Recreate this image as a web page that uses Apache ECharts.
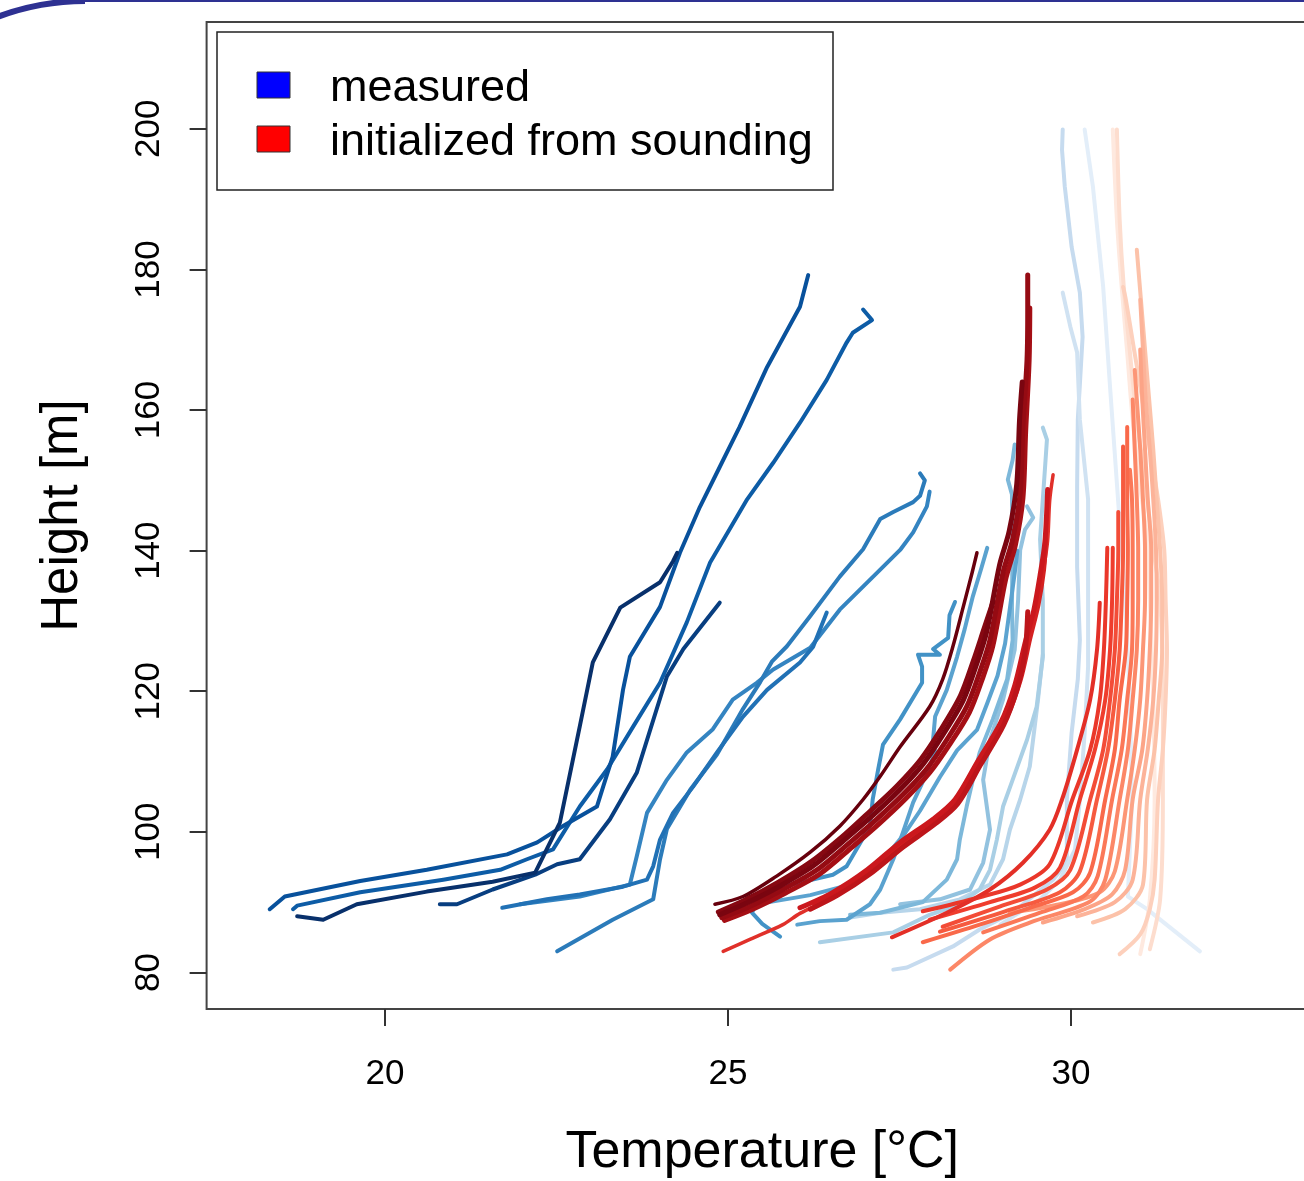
<!DOCTYPE html>
<html><head><meta charset="utf-8">
<script src="https://cdn.jsdelivr.net/npm/echarts@6/dist/echarts.min.js"></script>
<style>html,body{margin:0;padding:0;overflow:hidden;background:#fff}#c{width:1340px;height:1181px}</style>
</head><body><div id="c"></div><script>
// ---------- tick labels ----------
const xTicks = [20, 25, 30];
const yTicks = [80, 100, 120, 140, 160, 180, 200];
const legendNames = ['measured', 'initialized from sounding'];

// ---------- measured profiles [temperature °C, height m] ----------
const measured01 = [[18.72,88.0],[19.10,87.5],[19.59,89.7],[20.61,91.5],[21.57,92.9],[22.19,94.2],[22.55,101.3],[22.70,108.4],[22.84,115.0],[23.03,124.1],[23.43,131.9],[24.01,135.5],[24.20,138.5],[24.26,139.7]];
const measured02 = [[20.80,89.7],[21.05,89.7],[21.57,91.8],[22.19,93.9],[22.51,95.4],[22.84,96.1],[23.28,101.8],[23.67,108.4],[24.11,122.1],[24.35,126.0],[24.88,132.6]];
const measured03 = [[18.32,89.0],[18.54,90.8],[19.64,93.0],[20.61,94.6],[21.78,96.8],[22.22,98.5],[22.59,100.8],[23.09,103.6],[23.18,106.4],[23.32,110.7],[23.47,120.2],[23.57,124.9],[24.01,132.0],[24.30,139.7],[24.59,146.2],[24.88,151.9],[25.17,157.6],[25.57,166.1],[25.76,169.5],[26.05,174.7],[26.17,179.2]];
const measured04 = [[18.66,89.0],[18.72,89.5],[19.64,91.4],[20.85,93.2],[21.68,94.6],[22.07,96.1],[22.45,97.5],[22.84,103.6],[23.24,108.9],[23.62,115.0],[24.01,121.2],[24.40,129.8],[24.74,138.3],[25.28,147.3],[25.66,152.5],[26.05,158.2],[26.44,164.3],[26.73,169.6],[26.82,171.0],[27.10,172.8],[26.97,174.3]];
const measured05 = [[21.71,89.2],[22.36,90.4],[22.84,91.1],[23.47,92.2],[23.82,93.2],[23.91,95.1],[24.01,98.9],[24.20,102.7],[24.49,106.4],[24.84,111.3],[25.22,116.4],[25.57,120.2],[26.05,124.1],[26.24,126.3],[26.44,131.2]];
const measured06 = [[22.51,83.0],[23.32,87.5],[23.91,90.4],[24.01,96.1],[24.11,100.4],[24.45,106.0],[24.84,111.0],[25.22,117.5],[25.47,121.3],[25.64,124.2],[25.86,126.4],[26.20,130.7],[26.63,136.3],[26.97,140.2],[27.22,144.5],[27.41,145.5],[27.70,146.9],[27.80,147.8],[27.87,150.0],[27.80,151.0]];
const measured07 = [[21.97,89.7],[22.84,90.8],[23.57,92.5],[23.67,96.5],[23.82,102.7],[24.11,107.4],[24.40,111.3],[24.78,114.6],[25.07,118.8],[25.42,121.2],[25.66,123.1],[26.20,126.2],[26.63,131.6],[27.22,137.3],[27.51,140.1],[27.70,142.6],[27.90,146.3],[27.94,148.4]];
const measured08 = [[25.76,85.1],[25.50,86.9],[25.35,88.5],[25.45,90.6],[25.80,92.2],[26.53,93.9],[26.73,95.1],[27.07,100.8],[27.11,104.6],[27.19,108.9],[27.26,112.4],[27.51,116.0],[27.83,121.2],[27.83,123.5],[27.77,125.2],[28.09,125.2],[27.99,126.0],[28.21,127.6],[28.23,130.8],[28.31,132.7]];
const measured09 = [[28.78,140.4],[28.70,137.7],[28.57,133.5],[28.45,128.8],[28.34,124.9],[28.19,120.2],[28.02,116.4],[27.99,113.1],[28.02,111.3],[27.90,108.4],[27.70,104.2],[27.55,99.9],[27.41,96.1],[27.22,91.8],[27.07,89.7],[26.73,87.5],[26.34,87.3],[26.01,86.8]];
const measured10 = [[25.60,90.0],[26.20,91.0],[26.78,92.5],[27.22,95.5],[27.58,99.8],[27.80,103.0],[28.09,107.8],[28.34,111.6],[28.63,114.5],[28.78,118.3],[28.93,122.2],[29.04,126.8],[29.12,132.5],[29.18,136.8],[29.22,140.0]];
const measured11 = [[29.18,155.1],[29.15,152.9],[29.08,150.1],[29.14,148.0],[29.15,141.6],[29.14,132.0],[29.15,127.3],[29.07,121.7],[28.86,116.0],[28.67,111.3],[28.57,107.4],[28.48,103.6],[28.38,98.9],[28.34,96.1],[28.19,93.2],[27.84,90.0],[27.22,88.5],[26.78,88.2]];
const measured12 = [[29.36,146.3],[29.45,144.7],[29.33,143.0],[29.26,140.1],[29.23,133.0],[29.18,125.9],[29.01,118.8],[28.82,113.1],[28.72,107.4],[28.82,100.3],[28.72,95.6],[28.53,91.8],[28.09,90.4],[27.51,89.7]];
const measured13 = [[29.59,157.5],[29.65,155.8],[29.62,151.5],[29.59,147.3],[29.55,141.6],[29.59,133.0],[29.59,124.9],[29.50,117.8],[29.36,113.1],[29.15,107.4],[29.01,103.6],[28.92,98.9],[28.82,94.6],[28.67,91.8],[28.38,89.7],[27.94,88.2],[27.41,85.7],[26.34,84.3]];
const measured14 = [[29.59,125.2],[29.52,118.8],[29.40,109.3],[29.26,104.6],[29.11,100.3],[29.01,96.1],[28.82,92.5],[28.38,90.4],[27.80,89.0],[27.22,88.5],[26.78,87.8]];
const measured15 = [[29.88,199.9],[29.87,197.0],[29.91,191.8],[30.01,183.2],[30.13,176.7],[30.17,170.4],[30.10,158.6],[30.09,149.1],[30.09,137.7],[30.13,127.3],[30.10,121.7],[30.01,114.1],[29.94,104.6],[29.94,95.6],[29.74,93.2],[29.15,88.5],[28.67,86.1],[28.28,83.7],[27.61,80.7],[27.41,80.4]];
const measured16 = [[29.88,176.7],[29.99,171.9],[30.09,168.2],[30.13,158.6],[30.25,147.3],[30.25,133.0],[30.25,123.5],[30.20,114.1],[30.13,104.6],[30.06,97.5],[29.84,93.2],[29.55,90.4],[28.97,86.8]];
const measured17 = [[30.20,199.9],[30.32,191.8],[30.47,177.5],[30.57,163.3],[30.69,146.8],[30.79,133.0],[30.86,118.8],[30.89,104.6],[30.83,90.8],[31.11,89.0],[31.88,83.0]];

// ---------- simulated profiles (initialized from sounding) ----------
const sounding01 = [[24.81,89.7],[25.22,90.8],[25.71,93.7],[26.20,97.1],[26.63,100.8],[26.97,104.6],[27.22,107.9],[27.51,112.1],[27.94,117.8],[28.13,121.7],[28.28,126.4],[28.43,132.0],[28.56,136.9],[28.63,139.7]];
const sounding02 = [[24.88,88.2],[25.28,89.9],[25.76,92.3],[26.25,95.2],[26.73,99.1],[27.12,102.4],[27.50,105.9],[27.85,109.7],[28.14,113.9],[28.43,118.7],[28.62,123.7],[28.77,128.4],[28.96,138.0],[29.10,142.8],[29.21,149.5],[29.25,158.5],[29.29,164.0]];
const sounding03 = [[24.86,88.6],[25.25,90.3],[25.73,92.8],[26.22,95.8],[26.70,99.6],[27.08,103.0],[27.46,106.5],[27.81,110.3],[28.10,114.5],[28.39,119.4],[28.58,124.4],[28.73,128.8],[28.86,132.6]];
const sounding04 = [[24.91,87.8],[25.32,89.4],[25.80,91.8],[26.30,94.6],[26.78,98.5],[27.17,101.8],[27.55,105.3],[27.90,109.0],[28.19,113.1],[28.48,117.8],[28.67,122.7],[28.82,127.3],[29.01,136.9],[29.15,141.6],[29.26,148.2],[29.30,157.6],[29.36,167.2],[29.37,174.3],[29.37,179.2]];
const sounding05 = [[24.95,87.4],[25.36,89.0],[25.84,91.3],[26.34,94.0],[26.82,97.9],[27.21,101.2],[27.59,104.7],[27.94,108.4],[28.23,112.4],[28.52,117.0],[28.71,121.8],[28.86,126.4],[29.05,136.0],[29.19,140.8],[29.30,147.5],[29.34,157.0],[29.39,167.0],[29.40,174.5]];
const sounding06 = [[26.20,89.0],[26.60,91.0],[27.07,94.0],[27.55,97.8],[28.03,101.2],[28.35,104.0],[28.68,109.5],[29.02,115.2],[29.22,120.5],[29.33,125.5],[29.37,131.3]];
const sounding07 = [[26.05,89.2],[26.53,91.4],[27.03,94.6],[27.51,98.5],[27.99,101.8],[28.31,104.6],[28.64,110.0],[28.98,115.6],[29.18,120.8],[29.33,126.8],[29.46,131.6],[29.55,136.5],[29.62,141.2],[29.66,148.7]];
const sounding08 = [[26.27,89.6],[26.68,91.6],[27.12,94.8],[27.60,98.6],[28.07,102.0],[28.39,104.9],[28.72,110.6],[29.06,116.3],[29.26,121.6],[29.40,127.5],[29.52,132.3],[29.60,137.2],[29.63,141.5]];
const sounding09 = [[24.93,83.0],[25.32,84.7],[25.80,86.8],[26.05,88.4],[26.53,90.8],[27.03,94.1],[27.51,98.1],[27.99,101.4],[28.31,104.4],[28.67,110.1],[29.01,115.8],[29.21,121.0],[29.36,127.1],[29.50,131.8],[29.59,136.7],[29.66,141.4],[29.69,147.1],[29.74,150.8]];
const sounding10 = [[27.39,85.0],[28.19,88.5],[28.82,91.8],[29.30,95.6],[29.69,100.3],[29.87,104.6],[30.09,111.7],[30.28,118.8],[30.38,125.9],[30.42,132.6]];
const sounding11 = [[27.84,88.7],[28.67,90.7],[29.26,92.5],[29.69,95.4],[30.02,104.6],[30.28,111.7],[30.42,118.8],[30.48,125.9],[30.51,133.0],[30.53,140.4]];
const sounding12 = [[27.94,87.5],[28.82,90.0],[29.48,92.1],[29.84,94.9],[30.13,104.6],[30.35,111.7],[30.50,118.8],[30.57,125.9],[30.60,133.0],[30.61,140.4]];
const sounding13 = [[28.13,86.5],[28.97,89.4],[29.65,91.8],[29.99,94.6],[30.28,104.6],[30.47,111.7],[30.57,118.8],[30.64,125.9],[30.67,133.0],[30.69,140.1],[30.69,145.5]];
const sounding14 = [[28.09,85.8],[29.04,88.7],[29.84,91.4],[30.13,94.4],[30.38,104.6],[30.54,111.7],[30.64,118.8],[30.71,125.9],[30.74,133.0],[30.76,140.1],[30.76,147.3],[30.76,154.8]];
const sounding15 = [[27.84,84.3],[28.67,86.8],[29.40,89.2],[30.03,91.4],[30.28,94.2],[30.50,104.6],[30.64,111.7],[30.71,118.8],[30.80,125.9],[30.82,133.0],[30.83,140.1],[30.82,147.3],[30.82,157.6]];
const sounding16 = [[28.72,85.7],[29.55,88.5],[30.18,90.8],[30.39,93.7],[30.60,104.6],[30.74,111.7],[30.82,118.8],[30.89,125.9],[30.90,133.0],[30.90,140.1],[30.89,147.3],[30.86,151.5]];
const sounding17 = [[28.24,80.4],[28.82,84.7],[29.40,87.1],[30.28,90.1],[30.50,93.2],[30.71,104.6],[30.83,111.7],[30.90,118.8],[30.96,125.9],[30.98,133.0],[30.98,140.1],[30.96,147.3],[30.93,154.4],[30.90,161.5]];
const sounding18 = [[29.11,88.5],[29.84,89.7],[30.42,91.4],[30.64,94.4],[30.82,104.6],[30.93,111.7],[31.01,118.8],[31.05,125.9],[31.08,133.0],[31.08,140.1],[31.05,147.3],[31.01,154.4],[30.96,161.5],[30.93,165.7]];
const sounding19 = [[29.59,87.1],[30.20,89.0],[30.60,91.1],[30.79,94.6],[30.90,104.6],[31.04,111.7],[31.11,118.8],[31.15,125.9],[31.17,133.0],[31.17,140.1],[31.12,147.3],[31.08,154.4],[31.04,161.5],[31.01,168.6]];
const sounding20 = [[30.09,88.0],[30.64,90.0],[30.90,93.2],[31.01,104.6],[31.12,111.7],[31.20,118.8],[31.24,125.9],[31.25,133.0],[31.24,140.1],[31.20,147.3],[31.15,154.4],[31.09,161.5],[31.05,168.6],[31.01,175.7]];
const sounding21 = [[30.32,87.1],[30.79,89.0],[31.05,92.5],[31.11,104.6],[31.22,111.7],[31.28,118.8],[31.33,125.9],[31.33,133.0],[31.30,140.1],[31.25,147.3],[31.20,154.4],[31.14,161.5],[31.08,168.6],[31.02,175.7],[30.96,182.8]];
const sounding22 = [[30.71,82.6],[31.01,85.4],[31.15,89.0],[31.22,93.2],[31.27,104.6],[31.34,111.7],[31.38,118.8],[31.40,125.9],[31.38,133.0],[31.36,140.1],[31.27,147.3],[31.15,154.4],[31.04,161.5],[30.92,168.6],[30.80,175.7],[30.76,177.5]];
const sounding23 = [[31.15,83.3],[31.30,90.4],[31.34,104.6],[31.34,118.8],[31.30,133.0],[31.18,141.6],[31.08,150.1],[30.96,158.6],[30.86,168.2],[30.77,177.5],[30.71,187.1],[30.67,199.9]];
const sounding24 = [[31.01,82.6],[31.15,90.4],[31.22,104.6],[31.20,118.8],[31.15,133.0],[31.11,141.6],[31.01,149.1],[30.90,158.6],[30.82,168.2],[30.74,177.5],[30.67,187.1],[30.61,199.9]];

// ---------- styling (not data) ----------
const measuredStyle = [
  [measured17,'#E3EEF9',4],[measured15,'#C6DBEF',4],[measured16,'#D0E2F2',4],[measured14,'#B7D5EA',4],
  [measured13,'#A9CFE5',4],[measured12,'#92C2DF',4],[measured11,'#7DB8DA',4],[measured10,'#5BA3D0',4],
  [measured09,'#5AA2CF',4],[measured08,'#4292C6',4],[measured07,'#3484C1',4],[measured06,'#2B7BBA',4],
  [measured05,'#2171B5',4],[measured04,'#0D5CA6',4],[measured03,'#08519C',4],[measured02,'#083E80',4],
  [measured01,'#08306B',4]
];
const soundingStyle = [
  [sounding24,'#FEE9DF',4],[sounding23,'#FDDDCE',4],[sounding22,'#FDD0BC',4],[sounding21,'#FCC2A9',4],
  [sounding20,'#FCB399',4],[sounding19,'#FCA487',4],[sounding18,'#FC9676',4],[sounding17,'#FC8767',4],
  [sounding16,'#FB7858',4],[sounding15,'#F9694A',4],[sounding14,'#F65A3F',4],[sounding13,'#F34C37',4],
  [sounding12,'#EF3D2D',4],[sounding11,'#EA372A',4],[sounding10,'#E32F27',4],
  [sounding09,'#E0302A',3.5],[sounding08,'#D42121',5],[sounding07,'#CB181D',5],[sounding06,'#BD151A',5],
  [sounding05,'#A50F15',5],[sounding04,'#950B13',5],[sounding03,'#860812',5],[sounding02,'#7A0510',5],
  [sounding01,'#67000D',3.5]
];

const FONT = "'Liberation Sans', Arial, Helvetica, sans-serif";
function mk(item, name, smooth){
  return {type:'line', name:name, data:item[0], showSymbol:false, symbol:'none', smooth:smooth,
    lineStyle:{color:item[1], width:item[2], cap:'round', join:'round'}, itemStyle:{color:item[1]},
    silent:true, animation:false, clip:true};
}
const series = [];
measuredStyle.forEach(s=>series.push(mk(s, legendNames[0], false)));
soundingStyle.forEach(s=>series.push(mk(s, legendNames[1], 0.3)));

const chart = echarts.init(document.getElementById('c'), null, {renderer:'canvas'});
chart.setOption({
  backgroundColor:'#fff',
  animation:false,
  grid:{left:206.6, top:22, width:1111.3, height:987, show:true, borderColor:'#444', borderWidth:2,
        backgroundColor:'transparent', containLabel:false, outerBoundsMode:'none'},
  xAxis:{type:'value', min:17.4, max:33.6, name:'Temperature [°C]', nameLocation:'middle', nameGap:118,
    nameTextStyle:{fontFamily:FONT, fontSize:52, color:'#000'},
    axisLine:{show:false}, splitLine:{show:false},
    axisTick:{show:true, length:17, customValues:xTicks, lineStyle:{color:'#333', width:2}},
    axisLabel:{customValues:xTicks, fontFamily:FONT, fontSize:35, color:'#000', margin:48}},
  yAxis:{type:'value', min:74.8, max:215.2, name:'Height [m]', nameLocation:'middle', nameGap:118,
    nameTextStyle:{fontFamily:FONT, fontSize:51, color:'#000'},
    axisLine:{show:false}, splitLine:{show:false},
    axisTick:{show:true, length:17, customValues:yTicks, lineStyle:{color:'#333', width:2}},
    axisLabel:{customValues:yTicks, rotate:90, fontFamily:FONT, fontSize:35, color:'#000', margin:40}},
  graphic:[
    {type:'arc', silent:true, shape:{cx:85, cy:249, r:248, startAngle:Math.PI, endAngle:Math.PI*1.5},
     style:{stroke:'#2E3192', lineWidth:6, fill:null}},
    {type:'line', silent:true, shape:{x1:80, y1:0.5, x2:1340, y2:0.5}, style:{stroke:'#2E3192', lineWidth:3}},
    {type:'rect', silent:true, shape:{x:217, y:32, width:616, height:158}, style:{fill:'#fff', stroke:'#222', lineWidth:1.5}},
    {type:'rect', silent:true, shape:{x:257, y:72, width:33, height:26}, style:{fill:'#0000FF', stroke:'#333', lineWidth:1}},
    {type:'rect', silent:true, shape:{x:257, y:126, width:33, height:26}, style:{fill:'#FF0000', stroke:'#333', lineWidth:1}},
    {type:'text', silent:true, style:{x:330, y:89, text:legendNames[0], font:"45px "+FONT, fill:'#000', verticalAlign:'middle'}},
    {type:'text', silent:true, style:{x:330, y:143, text:legendNames[1], font:"45px "+FONT, fill:'#000', verticalAlign:'middle'}}
  ],
  series:series
});
</script></body></html>
